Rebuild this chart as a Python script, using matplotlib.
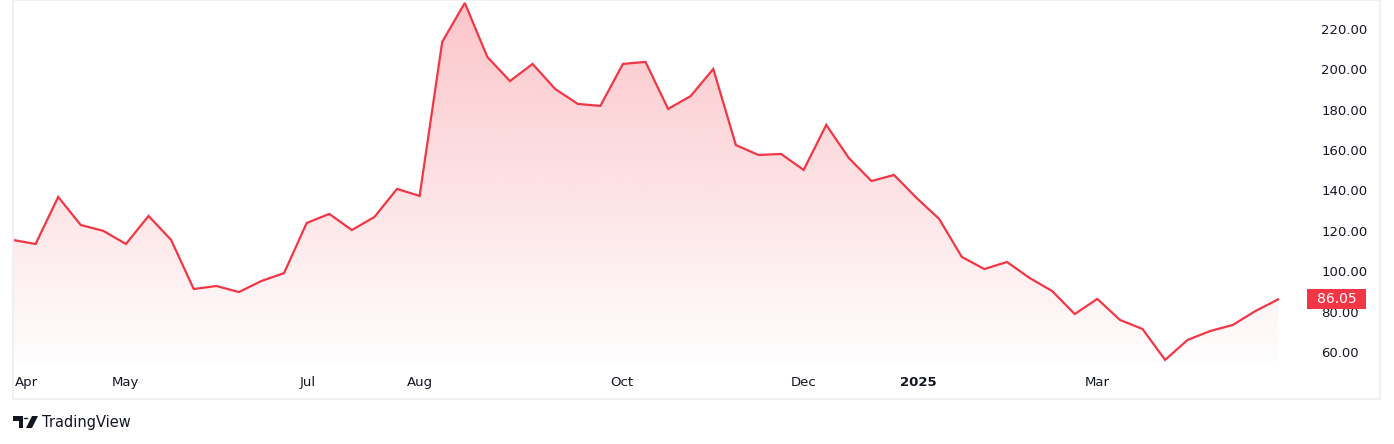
import matplotlib
matplotlib.use("Agg")
import matplotlib.pyplot as plt
import matplotlib.transforms as mtransforms
from matplotlib.patches import Rectangle, Polygon, Circle
import numpy as np

# weekly closes
prices = [115.5, 113.5, 136.8, 122.9, 120.0, 113.5, 127.4, 115.5, 91.2, 92.7,
          89.7, 95.2, 99.1, 123.9, 128.4, 120.4, 126.9, 140.8, 137.3, 213.6,
          232.9, 206.1, 194.2, 202.7, 190.3, 182.9, 181.9, 202.7, 203.7, 180.4,
          186.8, 200.2, 162.5, 157.6, 158.1, 150.2, 172.5, 156.1, 144.7, 147.7,
          136.3, 125.9, 107.1, 101.1, 104.6, 96.7, 90.2, 78.8, 86.3, 75.9,
          71.4, 56.1, 66.0, 70.4, 73.4, 80.3, 86.05]
month_pos = [0.6, 4.96, 13.06, 18.0, 26.96, 35.0, 40.06, 48.0]
month_labels = ["Apr", "May", "Jul", "Aug", "Oct", "Dec", "2025", "Mar"]
price_ticks = [60, 80, 100, 120, 140, 160, 180, 200, 220]

RED = "#f23645"
TXT = "#131722"
W, H = 1394, 444

fig = plt.figure(figsize=(W / 100, H / 100), dpi=100)
fig.patch.set_facecolor("white")

def fx(px):
    return px / W

def fy(py):
    return 1 - py / H

ax = fig.add_axes([fx(13), fy(362), fx(1290 - 13), 362 / H])
x = np.arange(len(prices))
y = np.array(prices)

ax.set_xlim(0, 56.53)
ax.set_ylim(55.05, 234.36)

# gradient fill under the line
ymin, ymax = ax.get_ylim()
grad = np.linspace(0, 1, 256).reshape(-1, 1)
rgba = np.zeros((256, 1, 4))
rgba[..., 0] = 242 / 255
rgba[..., 1] = 54 / 255
rgba[..., 2] = 69 / 255
rgba[..., 3] = 0.01 + 0.28 * grad
img = ax.imshow(rgba, extent=[x[0], x[-1], ymin, ymax], origin="lower",
                aspect="auto", zorder=1)
clip = Polygon(np.vstack([np.column_stack([x, y]),
                          [[x[-1], ymin], [x[0], ymin]]]),
               closed=True, transform=ax.transData, fc="none", ec="none")
ax.add_patch(clip)
img.set_clip_path(clip)

ax.plot(x, y, color=RED, lw=1.6, zorder=3, solid_joinstyle="miter")

for s in ax.spines.values():
    s.set_visible(False)

ax.set_xticks(month_pos)
ax.set_xticklabels(month_labels)
ax.tick_params(axis="x", length=0, pad=10, labelsize=9.5, labelcolor=TXT)
for lbl in ax.get_xticklabels():
    if lbl.get_text() == "2025":
        lbl.set_fontweight("bold")

ax.yaxis.tick_right()
ax.set_yticks(price_ticks)
ax.set_yticklabels([f"{v:.2f}" for v in price_ticks])
ax.tick_params(axis="y", length=0, pad=22.5, labelsize=9.5, labelcolor=TXT)

# last price label
blend = mtransforms.blended_transform_factory(fig.transFigure, ax.transData)
box_h = 20 / (362 / (ymax - ymin))
ax.add_patch(Rectangle((fx(1307), prices[-1] - box_h / 2), fx(59), box_h,
                       transform=blend, fc=RED, ec="none", zorder=5,
                       clip_on=False))
ax.text(fx(1336.5), prices[-1], f"{prices[-1]:.2f}", transform=blend,
        ha="center", va="center", color="white", fontsize=10, zorder=6,
        clip_on=False)

# outer frame
fig.add_artist(Rectangle((fx(13), fy(399)), fx(1380 - 13), fy(0) - fy(399),
                         transform=fig.transFigure, fill=False,
                         ec="#eef0f3", lw=1.5))

# TradingView logo
logo = "#131722"
fig.add_artist(Polygon([(fx(13), fy(416)), (fx(23), fy(416)), (fx(23), fy(428)),
                        (fx(19), fy(428)), (fx(19), fy(421)), (fx(13), fy(421))],
                       closed=True, transform=fig.transFigure, fc=logo, ec="none"))
fig.add_artist(Circle((fx(26), fy(418.5)), 2.3 / W, transform=fig.transFigure,
                      fc=logo, ec="none"))
fig.add_artist(Polygon([(fx(32), fy(416)), (fx(38), fy(416)), (fx(32), fy(428)),
                        (fx(26), fy(428))],
                       closed=True, transform=fig.transFigure, fc=logo, ec="none"))
fig.text(fx(42), fy(422), "TradingView", ha="left", va="center",
         fontsize=10.5, color=logo)

fig.savefig("out.png", dpi=100)
